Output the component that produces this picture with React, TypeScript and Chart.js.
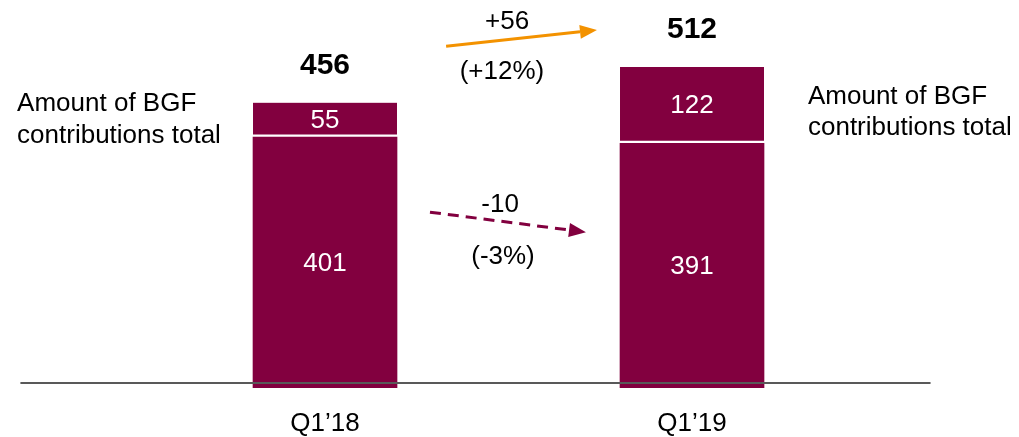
import React, { useEffect, useRef } from "react";
import { Chart, registerables } from "chart.js";

Chart.register(...registerables);

const CATEGORIES = ["Q1’18", "Q1’19"];
const BASE_VALUES = [401, 391];
const TOP_VALUES = [55, 122];
const TOTALS = [456, 512];
const SIDE_LABEL = ["Amount of BGF", "contributions total"];
const CHANGE_ABS = ["+56", "-10"];
const CHANGE_PCT = ["(+12%)", "(-3%)"];

const BAR = "#82003F";
const ORANGE = "#F39200";
const FONT = "'Liberation Sans', Arial, Helvetica, sans-serif";

function drawArrow(
  ctx: CanvasRenderingContext2D,
  x1: number,
  y1: number,
  x2: number,
  y2: number,
  color: string,
  dashed: boolean
) {
  const ang = Math.atan2(y2 - y1, x2 - x1);
  const headLen = 17;
  const headHalf = 7;
  const bx = x2 - headLen * Math.cos(ang);
  const by = y2 - headLen * Math.sin(ang);
  ctx.save();
  ctx.strokeStyle = color;
  ctx.fillStyle = color;
  ctx.lineWidth = 3;
  if (dashed) ctx.setLineDash([11, 7]);
  ctx.beginPath();
  ctx.moveTo(x1, y1);
  ctx.lineTo(bx, by);
  ctx.stroke();
  ctx.setLineDash([]);
  ctx.beginPath();
  ctx.moveTo(x2, y2);
  ctx.lineTo(bx + headHalf * Math.sin(ang), by - headHalf * Math.cos(ang));
  ctx.lineTo(bx - headHalf * Math.sin(ang), by + headHalf * Math.cos(ang));
  ctx.closePath();
  ctx.fill();
  ctx.restore();
}

const annotationPlugin = {
  id: "annotations",
  afterDatasetsDraw(chart: any) {
    const { ctx, scales } = chart;
    const xs = scales.x;
    const ys = scales.y;
    const X = (v: number) => xs.getPixelForValue(v);
    const Y = (v: number) => ys.getPixelForValue(v);
    ctx.save();

    // baseline
    ctx.strokeStyle = "#595959";
    ctx.lineWidth = 2;
    ctx.beginPath();
    ctx.moveTo(X(-0.83), Y(8));
    ctx.lineTo(X(1.65), Y(8));
    ctx.stroke();

    // segment labels
    ctx.fillStyle = "#ffffff";
    ctx.font = `26px ${FONT}`;
    ctx.textAlign = "center";
    ctx.textBaseline = "middle";
    [0, 1].forEach((d) => {
      const meta = chart.getDatasetMeta(d);
      const values = d === 0 ? BASE_VALUES : TOP_VALUES;
      meta.data.forEach((el: any, i: number) => {
        const p = el.getProps(["x", "y", "base"], true);
        ctx.fillText(String(values[i]), p.x, (p.y + p.base) / 2 + 1);
      });
    });

    // totals
    ctx.fillStyle = "#000000";
    ctx.font = `bold 30px ${FONT}`;
    const topMeta = chart.getDatasetMeta(1);
    topMeta.data.forEach((el: any, i: number) => {
      const p = el.getProps(["x", "y"], true);
      ctx.fillText(String(TOTALS[i]), p.x, p.y - 37);
    });

    // side labels
    ctx.font = `26px ${FONT}`;
    ctx.textAlign = "left";
    SIDE_LABEL.forEach((line, k) => {
      ctx.fillText(line, X(-0.839), Y(454) + k * 32);
      ctx.fillText(line, X(1.316), Y(466) + k * 31);
    });

    // change arrows
    drawArrow(ctx, X(0.33), Y(546), X(0.741), Y(572), ORANGE, false);
    drawArrow(ctx, X(0.286), Y(281), X(0.711), Y(249), BAR, true);

    ctx.fillStyle = "#000000";
    ctx.textAlign = "center";
    ctx.fillText(CHANGE_ABS[0], X(0.496), Y(585));
    ctx.fillText(CHANGE_PCT[0], X(0.482), Y(505));
    ctx.fillText(CHANGE_ABS[1], X(0.477), Y(292));
    ctx.fillText(CHANGE_PCT[1], X(0.485), Y(209));

    ctx.restore();
  },
};

export default function App() {
  const canvasRef = useRef<HTMLCanvasElement | null>(null);

  useEffect(() => {
    if (!canvasRef.current) return;
    const chart = new Chart(canvasRef.current, {
      type: "bar",
      data: {
        datasets: [
          {
            label: "base",
            data: BASE_VALUES.map((v, i) => ({ x: i, y: v })),
            backgroundColor: BAR,
            borderWidth: 0,
            barThickness: 144,
          },
          {
            label: "top",
            data: TOP_VALUES.map((v, i) => ({ x: i, y: v })),
            backgroundColor: BAR,
            borderColor: "#ffffff",
            borderWidth: { top: 0, left: 0, right: 0, bottom: 3 },
            borderSkipped: false,
            barThickness: 144,
          },
        ],
      } as any,
      options: {
        animation: false,
        responsive: true,
        maintainAspectRatio: false,
        layout: { padding: 0 },
        plugins: {
          legend: { display: false },
          tooltip: { enabled: false },
        },
        scales: {
          x: {
            type: "linear",
            stacked: true,
            offset: false,
            min: -0.8856,
            max: 1.891,
            grid: { display: false, drawTicks: false, offset: false },
            border: { display: false },
            afterBuildTicks: (scale: any) => {
              scale.ticks = CATEGORIES.map((_, i) => ({ value: i }));
            },
            afterFit: (scale: any) => {
              scale.height = 49;
            },
            ticks: {
              autoSkip: false,
              maxRotation: 0,
              padding: 20,
              color: "#000000",
              font: { family: FONT, size: 26 },
              callback: (v: any) => CATEGORIES[v as number] ?? "",
            },
          },
          y: {
            display: false,
            stacked: true,
            min: 0,
            max: 620,
          },
        },
      } as any,
      plugins: [annotationPlugin],
    });
    return () => chart.destroy();
  }, []);

  return (
    <div style={{ position: "absolute", left: 0, top: 0, width: 1019, height: 437 }}>
      <canvas ref={canvasRef} />
    </div>
  );
}
